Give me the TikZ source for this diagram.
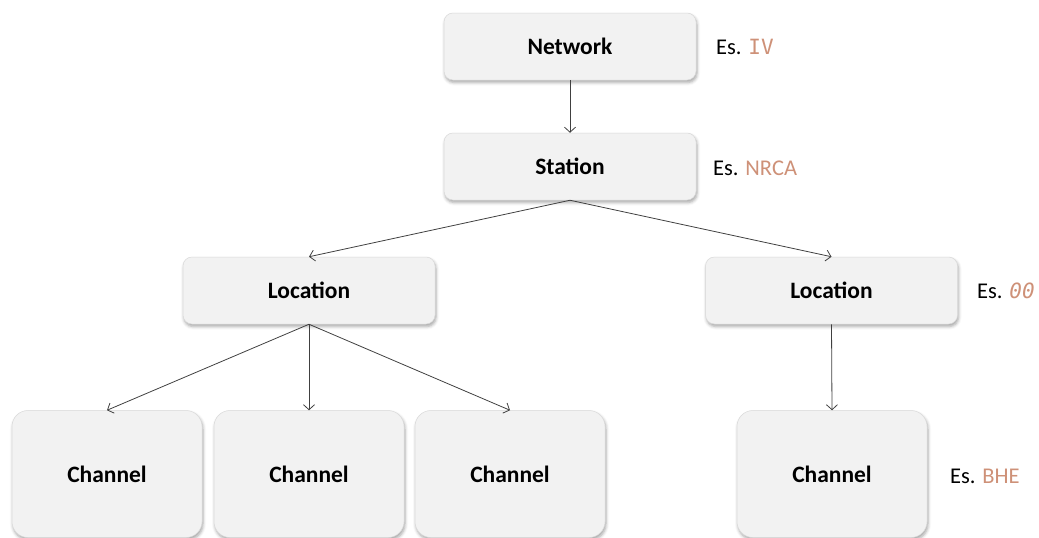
\documentclass[tikz,border=0pt]{standalone}
\usepackage{fontspec}
\setmainfont{Carlito}
\setmonofont{DejaVu Sans Mono}
\usetikzlibrary{arrows.meta,shadows.blur}
\definecolor{boxfill}{HTML}{F2F2F2}
\definecolor{boxline}{HTML}{D9D9D9}
\definecolor{codecol}{RGB}{206,145,120}
\definecolor{linkcol}{HTML}{404040}
\begin{document}
\begin{tikzpicture}[x=1pt,y=-1pt,
  level/.style={rectangle, rounded corners=9pt, fill=boxfill, draw=boxline, line width=0.5pt,
    minimum width=252pt, minimum height=67pt, font=\fontsize{23.5}{26}\selectfont\bfseries,
    blur shadow={shadow xshift=1pt, shadow yshift=-2.5pt, shadow blur radius=3pt, shadow opacity=35}},
  leaf/.style={level, rounded corners=16pt, minimum width=190pt, minimum height=127pt},
  example/.style={anchor=west, inner sep=0pt, font=\fontsize{22.5}{26}\selectfont},
  code/.style={},
  link/.style={draw=linkcol, line width=0.8pt, -{Straight Barb[length=5pt,width=11pt]}}]
\useasboundingbox (0,0) rectangle (1039,538);

% hierarchy boxes
\node[level] (net) at (570,46.5) {Network};
\node[level] (sta) at (570,166.5) {Station};
\node[level] (locA) at (309,290.5) {Location};
\node[level] (locB) at (831.5,290.5) {Location};
\node[leaf] (chA) at (107,474) {Channel};
\node[leaf] (chB) at (309,474) {Channel};
\node[leaf] (chC) at (510,474) {Channel};
\node[leaf] (chD) at (832,474) {Channel};

% example codes
\node[example] (exNet) at (716,47) {Es. \textcolor{codecol}{\fontsize{21}{26}\selectfont\ttfamily IV}};
\node[example] (exSta) at (713,168) {Es. \textcolor{codecol}{NRCA}};
\node[example] (exLoc) at (977,291) {Es. \textcolor{codecol}{\fontsize{21}{26}\selectfont\ttfamily\itshape 00}};
\node[example] (exCha) at (950,476) {Es. \textcolor{codecol}{BHE}};

% connectors
\draw[link] (net.south) -- (sta.north);
\draw[link] (sta.south) -- (locA.north);
\draw[link] (sta.south) -- (locB.north);
\draw[link] (locA.south) -- (chA.north);
\draw[link] (locA.south) -- (chB.north);
\draw[link] (locA.south) -- (chC.north);
\draw[link] (locB.south) -- (chD.north);
\end{tikzpicture}
\end{document}
